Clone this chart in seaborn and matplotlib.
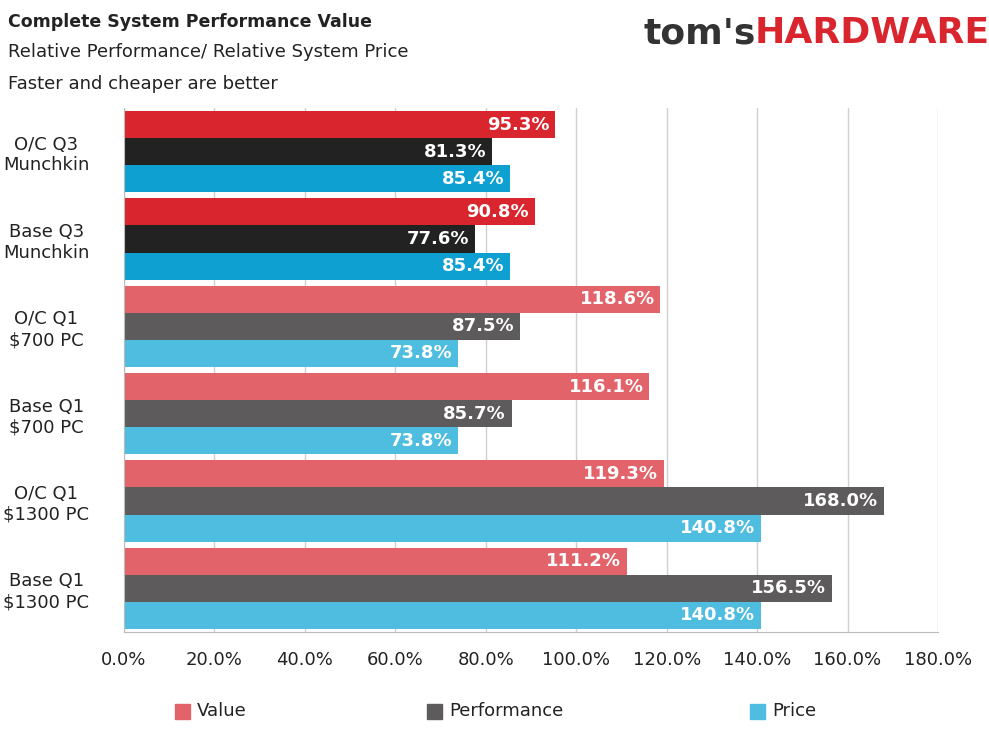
import matplotlib
matplotlib.use("Agg")
import matplotlib.pyplot as plt
import seaborn as sns
import pandas as pd

categories = ["O/C Q3\nMunchkin", "Base Q3\nMunchkin", "O/C Q1\n$700 PC", "Base Q1\n$700 PC", "O/C Q1\n$1300 PC", "Base Q1\n$1300 PC"]
series = ["Value", "Performance", "Price"]
value = [95.3, 90.8, 118.6, 116.1, 119.3, 111.2]
performance = [81.3, 77.6, 87.5, 85.7, 168.0, 156.5]
price = [85.4, 85.4, 73.8, 73.8, 140.8, 140.8]

bright = ["#d9262e", "#222222", "#0ea0d0"]
light = ["#e2636a", "#5d5b5c", "#4fbde0"]

rows = []
for s, vals in zip(series, [value, performance, price]):
    for c, v in zip(categories, vals):
        rows.append({"cat": c, "series": s, "val": v})
df = pd.DataFrame(rows)

sns.set_style("white")
plt.rcParams['font.family'] = ['DejaVu Sans']
fig = plt.figure(figsize=(9.89, 7.42), dpi=100)
ax = fig.add_axes([124/989, 1-632/742, 814/989, (632-108)/742])
sns.barplot(data=df, y="cat", x="val", hue="series", order=categories,
            hue_order=series, palette=light, width=0.93, ax=ax, legend=False)

for si, cont in enumerate(ax.containers):
    for ci, bar in enumerate(cont):
        bar.set_color(bright[si] if ci < 2 else light[si])
        bar.set_edgecolor("none")
    ax.bar_label(cont, labels=[f"{v:.1f}%" for v in cont.datavalues], padding=-4,
                 color="white", fontweight="bold", fontsize=13)
for t in ax.texts:
    t.set_ha("right")

ax.set_xlim(0, 180)
ax.set_xticks(range(0, 181, 20))
ax.set_xticklabels([f"{x:.1f}%" for x in range(0, 181, 20)], fontsize=13, color="#222")
ax.tick_params(axis="x", length=0, pad=14)
for lab in ax.get_yticklabels():
    lab.set_fontsize(13); lab.set_ha("center"); lab.set_color("#222")
ax.tick_params(axis="y", which="major", length=0, pad=56)
ax.set_xlabel(""); ax.set_ylabel("")
ax.grid(axis="x", color="#d0d0d0", lw=1)
ax.set_axisbelow(True)
for sp in ["top", "right"]:
    ax.spines[sp].set_visible(False)
ax.spines["left"].set_color("#bbbbbb")
ax.spines["bottom"].set_color("#bbbbbb")
ax.set_yticks([i + 0.5 for i in range(-1, 6)], minor=True)
ax.tick_params(axis="y", which="minor", length=6, color="#bbbbbb")

fig.text(8/989, 1-22/742, "Complete System Performance Value", fontsize=12.5, fontweight="bold", va="center", color="#222")
fig.text(8/989, 1-52/742, "Relative Performance/ Relative System Price", fontsize=13, va="center", color="#222")
fig.text(8/989, 1-84/742, "Faster and cheaper are better", fontsize=13, va="center", color="#222")
fig.text(643/989, 1-33/742, "tom's", fontsize=26, fontweight="bold", va="center", color="#333")
fig.text(755/989, 1-33/742, "HARDWARE", fontsize=26, fontweight="bold", va="center", color="#d9262e")

for x, lab, col in [(183, "Value", light[0]), (435, "Performance", light[1]), (758, "Price", light[2])]:
    fig.patches.append(plt.Rectangle(((x-8)/989, 1-719/742), 15/989, 15/742, color=col, transform=fig.transFigure))
    fig.text((x+14)/989, 1-711/742, lab, fontsize=13, va="center", color="#222")

fig.savefig("out.png", dpi=100)
